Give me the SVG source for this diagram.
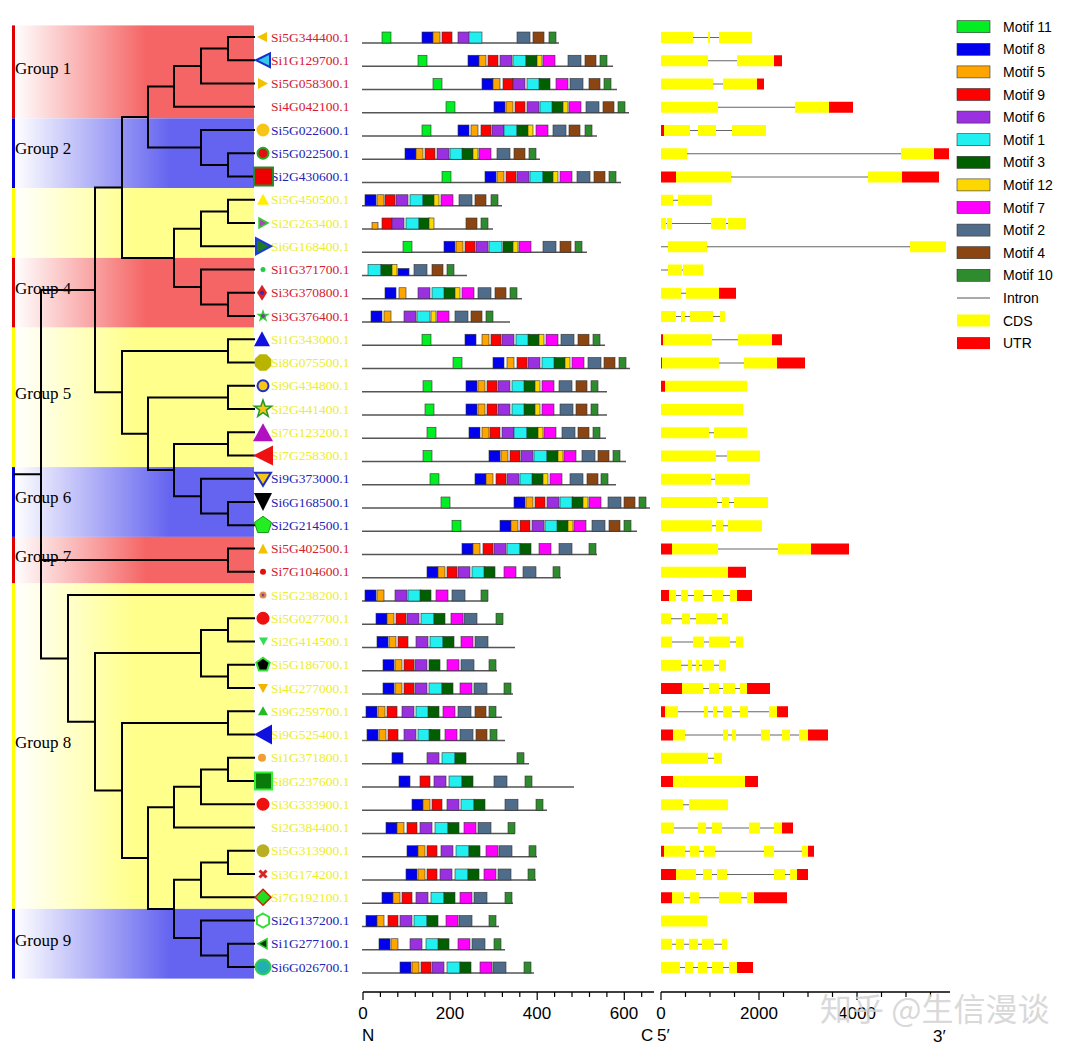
<svg xmlns="http://www.w3.org/2000/svg" xmlns:xlink="http://www.w3.org/1999/xlink" width="1080" height="1054" viewBox="0 0 1080 1054">
<style>
.t{font-family:"Liberation Serif","Times New Roman",serif;font-size:13.5px}
.lr{fill:#D42030}.lb{fill:#2424B4}.ly{fill:#EDED2E}
.gl{font-family:"Liberation Serif","Times New Roman",serif;font-size:17px;fill:#000}
.bl{stroke:#555;stroke-width:1.3;fill:none}
.in{stroke:#666;stroke-width:1;fill:none}
.cd{stroke:#FFFF00;stroke-width:11;fill:none}
.ut{stroke:#FF0000;stroke-width:11;fill:none}
.tree{stroke:#000;stroke-width:2;fill:none;stroke-linecap:square}
.lg{font-family:"Liberation Sans",Arial,sans-serif;font-size:14px;fill:#000}
.ax{font-family:"Liberation Sans",Arial,sans-serif;font-size:17px;fill:#000}
.axl{stroke:#000;stroke-width:1.5;fill:none}
</style>
<defs>
<linearGradient id="gR" gradientUnits="userSpaceOnUse" x1="14" y1="0" x2="254" y2="0"><stop offset="0" stop-color="#fff"/><stop offset="0.55" stop-color="#F56565"/><stop offset="1" stop-color="#F56565"/></linearGradient>
<linearGradient id="gB" gradientUnits="userSpaceOnUse" x1="14" y1="0" x2="254" y2="0"><stop offset="0" stop-color="#fff"/><stop offset="0.65" stop-color="#6464F0"/><stop offset="1" stop-color="#6464F0"/></linearGradient>
<linearGradient id="gY" gradientUnits="userSpaceOnUse" x1="14" y1="0" x2="254" y2="0"><stop offset="0" stop-color="#fff"/><stop offset="0.5" stop-color="#FFFF8C"/><stop offset="1" stop-color="#FFFF8C"/></linearGradient>
<rect id="m11" y="-5" width="9" height="11" fill="#00EE22" stroke="#333" stroke-width=".6"/>
<rect id="m8" y="-5" width="11" height="11" fill="#0000EE" stroke="#333" stroke-width=".6"/>
<rect id="m5" y="-5" width="7" height="11" fill="#FFA500" stroke="#333" stroke-width=".6"/>
<rect id="m9" y="-5" width="10" height="11" fill="#FF0000" stroke="#333" stroke-width=".6"/>
<rect id="m6" y="-5" width="12" height="11" fill="#9B30E0" stroke="#333" stroke-width=".6"/>
<rect id="m1" y="-5" width="13" height="11" fill="#22F0F0" stroke="#333" stroke-width=".6"/>
<rect id="m3" y="-5" width="11" height="11" fill="#006000" stroke="#333" stroke-width=".6"/>
<rect id="m12" y="-5" width="5" height="11" fill="#FFD700" stroke="#333" stroke-width=".6"/>
<rect id="m7" y="-5" width="12" height="11" fill="#FF00FF" stroke="#333" stroke-width=".6"/>
<rect id="m2" y="-5" width="13" height="11" fill="#4F6D8A" stroke="#333" stroke-width=".6"/>
<rect id="m4" y="-5" width="11" height="11" fill="#8B4513" stroke="#333" stroke-width=".6"/>
<rect id="m10" y="-5" width="7" height="11" fill="#2E8B2E" stroke="#333" stroke-width=".6"/>
</defs>
<rect width="1080" height="1054" fill="#fff"/>

<g id="bands">
<rect x="14" y="25.4" width="240" height="93" fill="url(#gR)"/>
<rect x="14" y="118.4" width="240" height="69.7" fill="url(#gB)"/>
<rect x="14" y="188.1" width="240" height="69.8" fill="url(#gY)"/>
<rect x="14" y="257.9" width="240" height="69.7" fill="url(#gR)"/>
<rect x="14" y="327.6" width="240" height="139.5" fill="url(#gY)"/>
<rect x="14" y="467.1" width="240" height="69.8" fill="url(#gB)"/>
<rect x="14" y="536.9" width="240" height="46.5" fill="url(#gR)"/>
<rect x="14" y="583.4" width="240" height="325.5" fill="url(#gY)"/>
<rect x="14" y="908.9" width="240" height="69.7" fill="url(#gB)"/>
<rect x="12" y="25.4" width="3" height="93" fill="#E00000"/>
<rect x="12" y="118.4" width="3" height="69.7" fill="#0000DD"/>
<rect x="12" y="188.1" width="3" height="69.8" fill="#FFFF00"/>
<rect x="12" y="257.9" width="3" height="69.7" fill="#E00000"/>
<rect x="12" y="327.6" width="3" height="139.5" fill="#FFFF00"/>
<rect x="12" y="467.1" width="3" height="69.8" fill="#0000DD"/>
<rect x="12" y="536.9" width="3" height="46.5" fill="#E00000"/>
<rect x="12" y="583.4" width="3" height="325.5" fill="#FFFF00"/>
<rect x="12" y="908.9" width="3" height="69.7" fill="#0000DD"/>
</g>

<g id="connectors" class="tree">
<path d="M254 37H228V60.25H254M228 48.6H201V83.5H254M201 66H174V106.75H254"/>
<path d="M254 153.25H228V176.5H254M228 164.9H201V130H254M201 147.4H148V86.4H174"/>
<path d="M254 199.75H228V223H254M228 211.4H201V246.25H254M201 228.8H174V287H201"/>
<path d="M254 292.75H228V316H254M228 304.4H201V269.5H254"/>
<path d="M148 116.9H122V257.9H174"/>
<path d="M254 339.25H228V362.5H254M254 385.75H228V409H254M254 432.25H228V455.5H254M254 502H228V525.25H254"/>
<path d="M228 513.6H201V478.75H254M201 496.2H174V443.9H228M174 470H148V397.4H228M148 433.7H122V350.9H228"/>
<path d="M122 187.4H95V392.3H122"/>
<path d="M254 548.5H228V571.75H254"/>
<path d="M254 618.25H228V641.5H254M254 664.75H228V688H254M228 629.9H201V676.4H228"/>
<path d="M254 711.25H228V734.5H254M254 757.75H228V781H254M228 769.4H201V804.25H254M201 786.8H174V827.5H254"/>
<path d="M254 850.75H228V874H254M228 862.4H201V897.25H254M254 943.75H228V967H254M228 955.4H201V920.5H254M201 879.8H174V938H201"/>
<path d="M174 807.2H148V908.9H174M228 722.9H122V858H148M201 653.1H95V790.5H122M254 595H68V721.8H95"/>
<path d="M95 289.9H41V658.4H68M41 560.1H228M14 474.2H41"/>
</g>

<g id="group-labels">
<text class="gl" x="15" y="74">Group 1</text>
<text class="gl" x="15" y="154">Group 2</text>
<text class="gl" x="15" y="294">Group 4</text>
<text class="gl" x="15" y="399">Group 5</text>
<text class="gl" x="15" y="503">Group 6</text>
<text class="gl" x="15" y="562">Group 7</text>
<text class="gl" x="15" y="748">Group 8</text>
<text class="gl" x="15" y="946">Group 9</text>
</g>

<g id="n1" transform="translate(0,37)">
<text class="t lr" x="271" y="4.5">Si5G344400.1</text>
<polygon points="257,0 267,-5 267,5" fill="#F2C100"/>
<path class="bl" d="M362 6H559"/>
<use href="#m11" x="382"/><use href="#m8" x="422"/><use href="#m5" x="433"/><use href="#m9" x="442"/><use href="#m6" x="458"/><use href="#m1" x="469"/><use href="#m2" x="517"/><use href="#m4" x="533"/><use href="#m10" x="549"/>
<path class="in" d="M661 .5H752"/><path class="cd" d="M661 .5H693M708 .5H710M719 .5H752"/>
</g>
<g id="n2" transform="translate(0,60.25)">
<text class="t lr" x="271" y="4.5">Si1G129700.1</text>
<polygon points="256,0 270,-7 270,7" fill="#35C8E8" stroke="#1530D0" stroke-width="2"/>
<path class="bl" d="M362 6H613"/>
<use href="#m11" x="418"/><use href="#m8" x="468"/><use href="#m5" x="479"/><use href="#m9" x="488"/><use href="#m6" x="500"/><use href="#m1" x="513"/><use href="#m3" x="526"/><use href="#m12" x="537"/><use href="#m7" x="543"/><use href="#m2" x="568"/><use href="#m4" x="585"/><use href="#m10" x="600"/>
<path class="in" d="M661 .5H782"/><path class="cd" d="M661 .5H708M737 .5H774"/><path class="ut" d="M774 .5H782"/>
</g>
<g id="n3" transform="translate(0,83.5)">
<text class="t lr" x="271" y="4.5">Si5G058300.1</text>
<polygon points="268,0 258,-5.5 258,5.5" fill="#F2C100"/>
<path class="bl" d="M362 6H617"/>
<use href="#m11" x="433"/><use href="#m8" x="482"/><use href="#m5" x="493"/><use href="#m9" x="503"/><use href="#m6" x="513"/><use href="#m1" x="527"/><use href="#m3" x="539"/><use href="#m7" x="556"/><use href="#m2" x="570"/><use href="#m4" x="589"/><use href="#m10" x="604"/>
<path class="in" d="M661 .5H764"/><path class="cd" d="M661 .5H713M723 .5H757"/><path class="ut" d="M757 .5H764"/>
</g>
<g id="n4" transform="translate(0,106.75)">
<text class="t lr" x="271" y="4.5">Si4G042100.1</text>
<path class="bl" d="M362 6H629"/>
<use href="#m11" x="446"/><use href="#m8" x="494"/><use href="#m5" x="506"/><use href="#m9" x="515"/><use href="#m6" x="527"/><use href="#m1" x="540"/><use href="#m3" x="552"/><use href="#m12" x="563"/><use href="#m7" x="569"/><use href="#m2" x="586"/><use href="#m4" x="603"/><use href="#m10" x="618"/>
<path class="in" d="M661 .5H853"/><path class="cd" d="M661 .5H718M795 .5H829"/><path class="ut" d="M829 .5H853"/>
</g>
<g id="n5" transform="translate(0,130)">
<text class="t lb" x="271" y="4.5">Si5G022600.1</text>
<circle cx="263" r="6.5" fill="#F5C518"/>
<path class="bl" d="M362 6H597"/>
<use href="#m11" x="422"/><use href="#m8" x="458"/><use href="#m5" x="471"/><use href="#m9" x="481"/><use href="#m6" x="492"/><use href="#m1" x="504"/><use href="#m3" x="517"/><use href="#m12" x="528"/><use href="#m7" x="536"/><use href="#m2" x="553"/><use href="#m4" x="569"/><use href="#m10" x="585"/>
<path class="in" d="M661 .5H766"/><path class="ut" d="M661 .5H664"/><path class="cd" d="M664 .5H690M698 .5H716M732 .5H766"/>
</g>
<g id="n6" transform="translate(0,153.25)">
<text class="t lb" x="271" y="4.5">Si5G022500.1</text>
<circle cx="263" r="5.5" fill="#E01010" stroke="#22AA22" stroke-width="2"/>
<path class="bl" d="M362 6H540"/>
<use href="#m8" x="405"/><use href="#m5" x="416"/><use href="#m9" x="425"/><use href="#m6" x="437"/><use href="#m1" x="450"/><use href="#m3" x="462"/><use href="#m12" x="473"/><use href="#m7" x="479"/><use href="#m2" x="497"/><use href="#m4" x="514"/><use href="#m10" x="529"/>
<path class="in" d="M661 .5H949"/><path class="cd" d="M661 .5H687M901 .5H934"/><path class="ut" d="M934 .5H949"/>
</g>
<g id="n7" transform="translate(0,176.5)">
<text class="t lb" x="271" y="4.5">Si2G430600.1</text>
<rect x="254" y="-9" width="19" height="18" fill="#EE0000" stroke="#2A8A2A" stroke-width="2"/>
<path class="bl" d="M362 6H621"/>
<use href="#m11" x="442"/><use href="#m8" x="485"/><use href="#m5" x="497"/><use href="#m9" x="506"/><use href="#m6" x="517"/><use href="#m1" x="530"/><use href="#m3" x="543"/><use href="#m12" x="553"/><use href="#m7" x="560"/><use href="#m2" x="577"/><use href="#m4" x="594"/><use href="#m10" x="609"/>
<path class="in" d="M661 .5H939"/><path class="ut" d="M661 .5H676M902 .5H939"/><path class="cd" d="M676 .5H731M868 .5H902"/>
</g>
<g id="n8" transform="translate(0,199.75)">
<text class="t ly" x="271" y="4.5">Si5G450500.1</text>
<polygon points="263,-6 257,5 269,5" fill="#FFEE00"/>
<path class="bl" d="M362 6H502"/>
<use href="#m8" x="365"/><use href="#m5" x="377"/><use href="#m9" x="385"/><use href="#m6" x="396"/><use href="#m1" x="410"/><use href="#m3" x="423"/><use href="#m12" x="434"/><use href="#m7" x="441"/><use href="#m2" x="459"/><use href="#m4" x="475"/><use href="#m10" x="491"/>
<path class="in" d="M661 .5H712"/><path class="cd" d="M661 .5H673M678 .5H712"/>
</g>
<g id="n9" transform="translate(0,223)">
<text class="t ly" x="271" y="4.5">Si2G263400.1</text>
<polygon points="268,0 259,-5 259,5" fill="#A050A0" stroke="#33CC33" stroke-width="1.5"/>
<path class="bl" d="M362 6H493"/>
<rect x="372" y="-0.5" width="6" height="6.5" fill="#FFA500" stroke="#333" stroke-width=".6"/><use href="#m9" x="382"/><use href="#m6" x="392"/><use href="#m1" x="406"/><use href="#m3" x="419"/><use href="#m12" x="429"/><use href="#m4" x="466"/><use href="#m10" x="481"/>
<path class="in" d="M661 .5H746"/><path class="cd" d="M661 .5H666M667 .5H672M711 .5H726M728 .5H746"/>
</g>
<g id="n10" transform="translate(0,246.25)">
<text class="t ly" x="271" y="4.5">Si6G168400.1</text>
<polygon points="271,0 256,-8 256,8" fill="#1E7A1E" stroke="#1A3ED0" stroke-width="2"/>
<path class="bl" d="M362 6H587"/>
<use href="#m11" x="403"/><use href="#m8" x="444"/><use href="#m5" x="456"/><use href="#m9" x="465"/><use href="#m6" x="476"/><use href="#m1" x="489"/><use href="#m3" x="503"/><use href="#m12" x="513"/><use href="#m7" x="519"/><use href="#m2" x="543"/><use href="#m4" x="560"/><use href="#m10" x="575"/>
<path class="in" d="M661 .5H946"/><path class="cd" d="M668 .5H707M910 .5H946"/>
</g>
<g id="n11" transform="translate(0,269.5)">
<text class="t lr" x="271" y="4.5">Si1G371700.1</text>
<circle cx="263" r="2.5" fill="#22CC44"/>
<path class="bl" d="M362 6H467"/>
<use href="#m1" x="368"/><use href="#m3" x="381"/><use href="#m12" x="392"/><rect x="398" y="-1" width="11" height="7" fill="#0000EE" stroke="#333" stroke-width=".6"/><use href="#m2" x="414"/><use href="#m4" x="432"/><use href="#m10" x="447"/>
<path class="in" d="M661 .5H703"/><path class="cd" d="M668 .5H682M683 .5H703"/>
</g>
<g id="n12" transform="translate(0,292.75)">
<text class="t lr" x="271" y="4.5">Si3G370800.1</text>
<polygon points="262,-8 267,0 262,8 257,0" fill="#DD2020"/><circle cx="262" r="2" fill="#2233CC"/>
<path class="bl" d="M362 6H522"/>
<use href="#m8" x="385"/><use href="#m5" x="399"/><use href="#m6" x="418"/><use href="#m1" x="432"/><use href="#m3" x="444"/><use href="#m12" x="455"/><use href="#m7" x="462"/><use href="#m2" x="478"/><use href="#m4" x="495"/><use href="#m10" x="510"/>
<path class="in" d="M661 .5H736"/><path class="cd" d="M661 .5H681M686 .5H719"/><path class="ut" d="M719 .5H736"/>
</g>
<g id="n13" transform="translate(0,316)">
<text class="t lr" x="271" y="4.5">Si3G376400.1</text>
<polygon points="263,-7 264.6,-2.3 269.7,-2.2 265.7,0.9 267.1,5.7 263,2.8 258.9,5.7 260.3,0.9 256.3,-2.2 261.4,-2.3" fill="#33CC33"/><circle cx="263" r="2" fill="#8040A0"/>
<path class="bl" d="M362 6H510"/>
<use href="#m8" x="371"/><use href="#m5" x="384"/><use href="#m6" x="404"/><use href="#m1" x="417"/><use href="#m12" x="431"/><use href="#m7" x="437"/><use href="#m2" x="455"/><use href="#m4" x="471"/><use href="#m10" x="486"/>
<path class="in" d="M661 .5H725"/><path class="cd" d="M661 .5H676M681 .5H685M690 .5H713M720 .5H725"/>
</g>
<g id="n14" transform="translate(0,339.25)">
<text class="t ly" x="271" y="4.5">Si1G343000.1</text>
<polygon points="262,-8 254,7 270,7" fill="#1010E0"/>
<path class="bl" d="M362 6H605"/>
<use href="#m11" x="422"/><use href="#m8" x="465"/><use href="#m5" x="482"/><use href="#m9" x="491"/><use href="#m6" x="502"/><use href="#m1" x="516"/><use href="#m3" x="528"/><use href="#m12" x="539"/><use href="#m7" x="546"/><use href="#m2" x="561"/><use href="#m4" x="578"/><use href="#m10" x="593"/>
<path class="in" d="M661 .5H782"/><path class="ut" d="M661 .5H663M772 .5H782"/><path class="cd" d="M663 .5H712M738 .5H772"/>
</g>
<g id="n15" transform="translate(0,362.5)">
<text class="t ly" x="271" y="4.5">Si8G075500.1</text>
<polygon points="271.3,-3.4 271.3,3.4 266.4,8.3 259.6,8.3 254.7,3.4 254.7,-3.4 259.6,-8.3 266.4,-8.3" fill="#B8B400"/>
<path class="bl" d="M362 6H630"/>
<use href="#m11" x="453"/><use href="#m8" x="493"/><use href="#m5" x="507"/><use href="#m9" x="517"/><use href="#m6" x="528"/><use href="#m1" x="542"/><use href="#m3" x="554"/><use href="#m12" x="565"/><use href="#m7" x="572"/><use href="#m2" x="588"/><use href="#m4" x="604"/><use href="#m10" x="619"/>
<path class="in" d="M661 .5H805"/><path class="ut" d="M661 .5H662M777 .5H805"/><path class="cd" d="M662 .5H719M744 .5H777"/>
</g>
<g id="n16" transform="translate(0,385.75)">
<text class="t ly" x="271" y="4.5">Si9G434800.1</text>
<circle cx="263" r="5.5" fill="#F5C518" stroke="#2030C0" stroke-width="2"/>
<path class="bl" d="M362 6H607"/>
<use href="#m11" x="423"/><use href="#m8" x="466"/><use href="#m5" x="478"/><use href="#m9" x="487"/><use href="#m6" x="498"/><use href="#m1" x="512"/><use href="#m3" x="524"/><use href="#m12" x="535"/><use href="#m7" x="542"/><use href="#m2" x="559"/><use href="#m4" x="576"/><use href="#m10" x="591"/>
<path class="ut" d="M661 .5H665"/><path class="cd" d="M665 .5H747"/>
</g>
<g id="n17" transform="translate(0,409)">
<text class="t ly" x="271" y="4.5">Si2G441400.1</text>
<polygon points="263,-9 265.1,-2.9 271.6,-2.8 266.4,1.1 268.3,7.3 263,3.6 257.7,7.3 259.6,1.1 254.4,-2.8 260.9,-2.9" fill="#F5C518" stroke="#229922" stroke-width="1.5"/>
<path class="bl" d="M362 6H607"/>
<use href="#m11" x="425"/><use href="#m8" x="466"/><use href="#m5" x="478"/><use href="#m9" x="487"/><use href="#m6" x="498"/><use href="#m1" x="512"/><use href="#m3" x="524"/><use href="#m12" x="535"/><use href="#m7" x="542"/><use href="#m2" x="560"/><use href="#m4" x="576"/><use href="#m10" x="591"/>
<path class="cd" d="M661 .5H743"/>
</g>
<g id="n18" transform="translate(0,432.25)">
<text class="t ly" x="271" y="4.5">Si7G123200.1</text>
<polygon points="263,-9 253,9 273,9" fill="#B010C0"/>
<path class="bl" d="M362 6H606"/>
<use href="#m11" x="427"/><use href="#m8" x="469"/><use href="#m5" x="482"/><use href="#m9" x="490"/><use href="#m6" x="502"/><use href="#m1" x="514"/><use href="#m3" x="527"/><use href="#m12" x="538"/><use href="#m7" x="544"/><use href="#m2" x="562"/><use href="#m4" x="578"/><use href="#m10" x="593"/>
<path class="in" d="M661 .5H747"/><path class="cd" d="M661 .5H709M714 .5H747"/>
</g>
<g id="n19" transform="translate(0,455.5)">
<text class="t ly" x="271" y="4.5">Si7G258300.1</text>
<polygon points="253,0 273,-10 273,10" fill="#EE1111"/>
<path class="bl" d="M362 6H626"/>
<use href="#m11" x="423"/><use href="#m8" x="489"/><use href="#m5" x="501"/><use href="#m9" x="510"/><use href="#m6" x="521"/><use href="#m1" x="534"/><use href="#m3" x="547"/><use href="#m12" x="558"/><use href="#m7" x="564"/><use href="#m2" x="582"/><use href="#m4" x="598"/><use href="#m10" x="613"/>
<path class="in" d="M661 .5H760"/><path class="cd" d="M661 .5H716M727 .5H760"/>
</g>
<g id="n20" transform="translate(0,478.75)">
<text class="t lb" x="271" y="4.5">Si9G373000.1</text>
<polygon points="255,-6 271,-6 263,7" fill="#F5C518" stroke="#2030C0" stroke-width="2"/>
<path class="bl" d="M362 6H616"/>
<use href="#m11" x="430"/><use href="#m8" x="475"/><use href="#m5" x="486"/><use href="#m9" x="496"/><use href="#m6" x="507"/><use href="#m1" x="520"/><use href="#m3" x="532"/><use href="#m12" x="543"/><use href="#m7" x="550"/><use href="#m2" x="570"/><use href="#m4" x="587"/><use href="#m10" x="601"/>
<path class="in" d="M661 .5H750"/><path class="cd" d="M661 .5H711M715 .5H750"/>
</g>
<g id="n21" transform="translate(0,502)">
<text class="t lb" x="271" y="4.5">Si6G168500.1</text>
<polygon points="254,-9 272,-9 263,9" fill="#000"/>
<path class="bl" d="M362 6H650"/>
<use href="#m11" x="441"/><use href="#m8" x="514"/><use href="#m5" x="526"/><use href="#m9" x="535"/><use href="#m6" x="547"/><use href="#m1" x="560"/><use href="#m3" x="572"/><use href="#m12" x="583"/><use href="#m7" x="589"/><use href="#m2" x="608"/><use href="#m4" x="624"/><use href="#m10" x="639"/>
<path class="in" d="M661 .5H768"/><path class="cd" d="M661 .5H717M722 .5H729M734 .5H768"/>
</g>
<g id="n22" transform="translate(0,525.25)">
<text class="t lb" x="271" y="4.5">Si2G214500.1</text>
<polygon points="263,-9 271.6,-2.8 268.3,7.3 257.7,7.3 254.4,-2.8" fill="#22EE22" stroke="#119911" stroke-width="1"/>
<path class="bl" d="M362 6H637"/>
<use href="#m11" x="452"/><use href="#m8" x="500"/><use href="#m5" x="511"/><use href="#m9" x="520"/><use href="#m6" x="532"/><use href="#m1" x="545"/><use href="#m3" x="557"/><use href="#m12" x="568"/><use href="#m7" x="574"/><use href="#m2" x="592"/><use href="#m4" x="609"/><use href="#m10" x="624"/>
<path class="in" d="M661 .5H762"/><path class="cd" d="M661 .5H712M716 .5H723M728 .5H762"/>
</g>
<g id="n23" transform="translate(0,548.5)">
<text class="t lr" x="271" y="4.5">Si5G402500.1</text>
<polygon points="263,-5 258,5 268,5" fill="#F2C100"/>
<path class="bl" d="M362 6H597"/>
<use href="#m8" x="462"/><use href="#m5" x="473"/><use href="#m9" x="483"/><use href="#m6" x="494"/><use href="#m1" x="507"/><use href="#m3" x="520"/><use href="#m7" x="539"/><use href="#m2" x="559"/><use href="#m10" x="589"/>
<path class="in" d="M661 .5H849"/><path class="ut" d="M661 .5H672M811 .5H849"/><path class="cd" d="M672 .5H718M778 .5H811"/>
</g>
<g id="n24" transform="translate(0,571.75)">
<text class="t lr" x="271" y="4.5">Si7G104600.1</text>
<circle cx="263" r="3" fill="#E01010"/>
<path class="bl" d="M362 6H561"/>
<use href="#m8" x="427"/><use href="#m5" x="438"/><use href="#m9" x="447"/><use href="#m6" x="458"/><use href="#m1" x="472"/><use href="#m3" x="484"/><use href="#m7" x="504"/><use href="#m2" x="523"/><use href="#m10" x="553"/>
<path class="cd" d="M661 .5H728"/><path class="ut" d="M728 .5H746"/>
</g>
<g id="n25" transform="translate(0,595)">
<text class="t ly" x="271" y="4.5">Si5G238200.1</text>
<circle cx="263" r="3.5" fill="#E0904A"/><circle cx="263" r="1.5" fill="#8040A0"/>
<path class="bl" d="M362 6H488"/>
<use href="#m8" x="365"/><use href="#m5" x="377"/><use href="#m6" x="395"/><use href="#m1" x="408"/><use href="#m3" x="420"/><use href="#m7" x="436"/><use href="#m2" x="452"/><use href="#m10" x="481"/>
<path class="in" d="M661 .5H752"/><path class="ut" d="M661 .5H669M737 .5H752"/><path class="cd" d="M669 .5H676M681 .5H688M694 .5H703M712 .5H723M730 .5H737"/>
</g>
<g id="n26" transform="translate(0,618.25)">
<text class="t ly" x="271" y="4.5">Si5G027700.1</text>
<circle cx="263" r="6.5" fill="#EE1111"/>
<path class="bl" d="M362 6H503"/>
<use href="#m8" x="376"/><use href="#m5" x="387"/><use href="#m9" x="396"/><use href="#m6" x="407"/><use href="#m1" x="421"/><use href="#m3" x="434"/><use href="#m7" x="451"/><use href="#m2" x="464"/><use href="#m10" x="496"/>
<path class="in" d="M661 .5H728"/><path class="cd" d="M661 .5H671M682 .5H690M696 .5H717M722 .5H728"/>
</g>
<g id="n27" transform="translate(0,641.5)">
<text class="t ly" x="271" y="4.5">Si2G414500.1</text>
<polygon points="259,-4 268,-4 263.5,4" fill="#33DD55"/>
<path class="bl" d="M362 6H515"/>
<use href="#m8" x="377"/><use href="#m5" x="389"/><use href="#m9" x="398"/><use href="#m6" x="416"/><use href="#m1" x="430"/><use href="#m3" x="443"/><use href="#m7" x="461"/><use href="#m2" x="475"/>
<path class="in" d="M661 .5H743"/><path class="cd" d="M661 .5H672M693 .5H704M709 .5H730M736 .5H743"/>
</g>
<g id="n28" transform="translate(0,664.75)">
<text class="t ly" x="271" y="4.5">Si5G186700.1</text>
<polygon points="263,-7 269.7,-2.2 267.1,5.7 258.9,5.7 256.3,-2.2" fill="#000" stroke="#33DD33" stroke-width="2"/>
<path class="bl" d="M362 6H497"/>
<use href="#m8" x="383"/><use href="#m5" x="395"/><use href="#m9" x="404"/><use href="#m6" x="415"/><use href="#m3" x="429"/><use href="#m7" x="447"/><use href="#m2" x="461"/><use href="#m10" x="489"/>
<path class="in" d="M661 .5H726"/><path class="cd" d="M661 .5H681M688 .5H692M696 .5H699M702 .5H714M719 .5H726"/>
</g>
<g id="n29" transform="translate(0,688)">
<text class="t ly" x="271" y="4.5">Si4G277000.1</text>
<polygon points="258,-4 268,-4 263,5" fill="#F2B400"/>
<path class="bl" d="M362 6H513"/>
<use href="#m8" x="383"/><use href="#m5" x="395"/><use href="#m9" x="404"/><use href="#m6" x="415"/><use href="#m1" x="429"/><use href="#m3" x="442"/><use href="#m7" x="460"/><use href="#m2" x="474"/><use href="#m10" x="504"/>
<path class="in" d="M661 .5H770"/><path class="ut" d="M661 .5H682M747 .5H770"/><path class="cd" d="M682 .5H703M709 .5H719M723 .5H735M740 .5H747"/>
</g>
<g id="n30" transform="translate(0,711.25)">
<text class="t ly" x="271" y="4.5">Si9G259700.1</text>
<polygon points="263,-5 258,4 268,4" fill="#22BB22"/>
<path class="bl" d="M362 6H502"/>
<use href="#m8" x="366"/><use href="#m5" x="378"/><use href="#m9" x="387"/><use href="#m6" x="402"/><use href="#m1" x="416"/><use href="#m3" x="428"/><use href="#m7" x="443"/><use href="#m2" x="458"/><use href="#m4" x="475"/><use href="#m10" x="489"/>
<path class="in" d="M661 .5H788"/><path class="ut" d="M661 .5H665M777 .5H788"/><path class="cd" d="M665 .5H678M704 .5H708M713 .5H717M723 .5H732M740 .5H748M769 .5H777"/>
</g>
<g id="n31" transform="translate(0,734.5)">
<text class="t ly" x="271" y="4.5">Si9G525400.1</text>
<polygon points="254,0 272,-10 272,10" fill="#1111DD"/>
<path class="bl" d="M362 6H505"/>
<use href="#m8" x="367"/><use href="#m5" x="379"/><use href="#m9" x="388"/><use href="#m6" x="404"/><use href="#m1" x="418"/><use href="#m3" x="429"/><use href="#m7" x="445"/><use href="#m2" x="460"/><use href="#m4" x="476"/><use href="#m10" x="490"/>
<path class="in" d="M661 .5H828"/><path class="ut" d="M661 .5H673M808 .5H828"/><path class="cd" d="M673 .5H685M723 .5H728M732 .5H736M761 .5H770M782 .5H790M799 .5H808"/>
</g>
<g id="n32" transform="translate(0,757.75)">
<text class="t ly" x="271" y="4.5">Si1G371800.1</text>
<circle cx="262" r="4" fill="#F0A030"/>
<path class="bl" d="M362 6H529"/>
<use href="#m8" x="392"/><use href="#m6" x="427"/><use href="#m1" x="442"/><use href="#m3" x="455"/><use href="#m10" x="517"/>
<path class="in" d="M661 .5H722"/><path class="cd" d="M661 .5H708M714 .5H722"/>
</g>
<g id="n33" transform="translate(0,781)">
<text class="t ly" x="271" y="4.5">Si8G237600.1</text>
<rect x="255" y="-8.5" width="17" height="17" fill="#0A7A0A" stroke="#33EE33" stroke-width="2"/>
<path class="bl" d="M362 6H574"/>
<use href="#m8" x="399"/><use href="#m9" x="420"/><use href="#m6" x="434"/><use href="#m1" x="449"/><use href="#m3" x="462"/><use href="#m2" x="494"/><use href="#m10" x="525"/>
<path class="ut" d="M661 .5H673M745 .5H758"/><path class="cd" d="M673 .5H745"/>
</g>
<g id="n34" transform="translate(0,804.25)">
<text class="t ly" x="271" y="4.5">Si3G333900.1</text>
<circle cx="263" r="6.5" fill="#EE1111"/>
<path class="bl" d="M362 6H547"/>
<use href="#m8" x="412"/><use href="#m5" x="423"/><use href="#m9" x="432"/><use href="#m6" x="447"/><use href="#m1" x="461"/><use href="#m3" x="474"/><use href="#m2" x="505"/><use href="#m10" x="536"/>
<path class="in" d="M661 .5H728"/><path class="cd" d="M661 .5H683M689 .5H728"/>
</g>
<g id="n35" transform="translate(0,827.5)">
<text class="t ly" x="271" y="4.5">Si2G384400.1</text>
<path class="bl" d="M362 6H515"/>
<use href="#m8" x="386"/><use href="#m5" x="397"/><use href="#m9" x="407"/><use href="#m6" x="420"/><use href="#m1" x="435"/><use href="#m3" x="448"/><use href="#m7" x="464"/><use href="#m2" x="478"/><use href="#m10" x="508"/>
<path class="in" d="M661 .5H793"/><path class="cd" d="M661 .5H674M698 .5H706M712 .5H722M749 .5H760M774 .5H782"/><path class="ut" d="M782 .5H793"/>
</g>
<g id="n36" transform="translate(0,850.75)">
<text class="t ly" x="271" y="4.5">Si5G313900.1</text>
<circle cx="263" r="6.5" fill="#B8B020"/>
<path class="bl" d="M362 6H537"/>
<use href="#m8" x="407"/><use href="#m5" x="418"/><use href="#m9" x="427"/><use href="#m6" x="441"/><use href="#m1" x="456"/><use href="#m3" x="469"/><use href="#m7" x="486"/><use href="#m2" x="499"/><use href="#m10" x="529"/>
<path class="in" d="M661 .5H814"/><path class="ut" d="M661 .5H664M808 .5H814"/><path class="cd" d="M664 .5H685M690 .5H699M704 .5H715M764 .5H774M802 .5H808"/>
</g>
<g id="n37" transform="translate(0,874)">
<text class="t ly" x="271" y="4.5">Si3G174200.1</text>
<path d="M259.5,-3.5L266.5,3.5M266.5,-3.5L259.5,3.5" stroke="#DD2222" stroke-width="3"/>
<path class="bl" d="M362 6H536"/>
<use href="#m8" x="406"/><use href="#m5" x="418"/><use href="#m9" x="427"/><use href="#m6" x="440"/><use href="#m1" x="455"/><use href="#m3" x="468"/><use href="#m7" x="484"/><use href="#m2" x="498"/><use href="#m10" x="528"/>
<path class="in" d="M661 .5H808"/><path class="ut" d="M661 .5H676M797 .5H808"/><path class="cd" d="M676 .5H696M703 .5H712M717 .5H727M774 .5H785M790 .5H797"/>
</g>
<g id="n38" transform="translate(0,897.25)">
<text class="t ly" x="271" y="4.5">Si7G192100.1</text>
<polygon points="263,-8 271,0 263,8 255,0" fill="#22DD22" stroke="#CC2200" stroke-width="1.5"/>
<path class="bl" d="M362 6H513"/>
<use href="#m8" x="382"/><use href="#m5" x="393"/><use href="#m9" x="402"/><use href="#m6" x="416"/><use href="#m1" x="431"/><use href="#m3" x="444"/><use href="#m7" x="460"/><use href="#m2" x="474"/><use href="#m10" x="505"/>
<path class="in" d="M661 .5H787"/><path class="ut" d="M661 .5H672M754 .5H787"/><path class="cd" d="M672 .5H684M690 .5H699M719 .5H741M747 .5H754"/>
</g>
<g id="n39" transform="translate(0,920.5)">
<text class="t lb" x="271" y="4.5">Si2G137200.1</text>
<polygon points="263,-7 269.1,-3.5 269.1,3.5 263,7 256.9,3.5 256.9,-3.5" fill="#fff" stroke="#33DD33" stroke-width="2"/>
<path class="bl" d="M362 6H499"/>
<use href="#m8" x="366"/><use href="#m5" x="377"/><use href="#m9" x="388"/><use href="#m6" x="400"/><use href="#m1" x="414"/><use href="#m3" x="427"/><use href="#m7" x="446"/><use href="#m2" x="459"/><use href="#m10" x="489"/>
<path class="cd" d="M661 .5H707"/>
</g>
<g id="n40" transform="translate(0,943.75)">
<text class="t lb" x="271" y="4.5">Si1G277100.1</text>
<polygon points="258,0 267,-5 267,5" fill="#113311" stroke="#33CC33" stroke-width="1.5"/>
<path class="bl" d="M362 6H505"/>
<use href="#m8" x="379"/><use href="#m5" x="391"/><use href="#m6" x="410"/><use href="#m1" x="426"/><use href="#m3" x="438"/><use href="#m7" x="458"/><use href="#m2" x="472"/><use href="#m10" x="494"/>
<path class="in" d="M661 .5H727"/><path class="cd" d="M661 .5H672M676 .5H684M689 .5H698M702 .5H714M722 .5H727"/>
</g>
<g id="n41" transform="translate(0,967)">
<text class="t lb" x="271" y="4.5">Si6G026700.1</text>
<circle cx="263" r="7.5" fill="#20B0B0" stroke="#33CC55" stroke-width="2"/>
<path class="bl" d="M362 6H534"/>
<use href="#m8" x="400"/><use href="#m5" x="412"/><use href="#m9" x="421"/><use href="#m6" x="432"/><use href="#m1" x="447"/><use href="#m3" x="460"/><use href="#m7" x="480"/><use href="#m2" x="493"/><use href="#m10" x="524"/>
<path class="in" d="M661 .5H753"/><path class="cd" d="M661 .5H680M685 .5H693M698 .5H707M712 .5H723M729 .5H737"/><path class="ut" d="M737 .5H753"/>
</g>

<g id="legend">
<rect x="957" y="20.7" width="33" height="12" fill="#00EE22" stroke="#333" stroke-width=".6"/><text class="lg" x="1003" y="31.7">Motif 11</text>
<rect x="957" y="43.3" width="33" height="12" fill="#0000EE" stroke="#333" stroke-width=".6"/><text class="lg" x="1003" y="54.3">Motif 8</text>
<rect x="957" y="65.9" width="33" height="12" fill="#FFA500" stroke="#333" stroke-width=".6"/><text class="lg" x="1003" y="76.9">Motif 5</text>
<rect x="957" y="88.5" width="33" height="12" fill="#FF0000" stroke="#333" stroke-width=".6"/><text class="lg" x="1003" y="99.5">Motif 9</text>
<rect x="957" y="111.1" width="33" height="12" fill="#9B30E0" stroke="#333" stroke-width=".6"/><text class="lg" x="1003" y="122.1">Motif 6</text>
<rect x="957" y="133.7" width="33" height="12" fill="#22F0F0" stroke="#333" stroke-width=".6"/><text class="lg" x="1003" y="144.7">Motif 1</text>
<rect x="957" y="156.3" width="33" height="12" fill="#006000" stroke="#333" stroke-width=".6"/><text class="lg" x="1003" y="167.3">Motif 3</text>
<rect x="957" y="178.9" width="33" height="12" fill="#FFD700" stroke="#333" stroke-width=".6"/><text class="lg" x="1003" y="189.9">Motif 12</text>
<rect x="957" y="201.5" width="33" height="12" fill="#FF00FF" stroke="#333" stroke-width=".6"/><text class="lg" x="1003" y="212.5">Motif 7</text>
<rect x="957" y="224.1" width="33" height="12" fill="#4F6D8A" stroke="#333" stroke-width=".6"/><text class="lg" x="1003" y="235.1">Motif 2</text>
<rect x="957" y="246.7" width="33" height="12" fill="#8B4513" stroke="#333" stroke-width=".6"/><text class="lg" x="1003" y="257.7">Motif 4</text>
<rect x="957" y="269.3" width="33" height="12" fill="#2E8B2E" stroke="#333" stroke-width=".6"/><text class="lg" x="1003" y="280.3">Motif 10</text>
<path d="M957 298H990" stroke="#555" stroke-width="1"/><text class="lg" x="1003" y="303">Intron</text>
<rect x="957" y="314.5" width="33" height="12" fill="#FFFF00"/><text class="lg" x="1003" y="325.5">CDS</text>
<rect x="957" y="337.1" width="33" height="12" fill="#FF0000"/><text class="lg" x="1003" y="348.1">UTR</text>
</g>

<g id="axes">
<path class="axl" d="M363 992H654M661 992H950"/>
<path stroke="#000" stroke-width="1.2" d="M363 992v8M450.1 992v8M537.2 992v8M624.3 992v8M380.4 992v5M397.8 992v5M415.3 992v5M432.7 992v5M467.5 992v5M484.9 992v5M502.4 992v5M519.8 992v5M554.6 992v5M572 992v5M589.5 992v5M606.9 992v5M641.7 992v5"/>
<path stroke="#000" stroke-width="1.2" d="M661 992v8M759 992v8M857 992v8M685.5 992v5M710 992v5M734.5 992v5M783.5 992v5M808 992v5M832.5 992v5M881.5 992v5M906 992v5M930.5 992v5"/>
<text class="ax" x="363" y="1019" text-anchor="middle">0</text>
<text class="ax" x="450" y="1019" text-anchor="middle">200</text>
<text class="ax" x="537" y="1019" text-anchor="middle">400</text>
<text class="ax" x="624" y="1019" text-anchor="middle">600</text>
<text class="ax" x="661" y="1019" text-anchor="middle">0</text>
<text class="ax" x="759" y="1019" text-anchor="middle">2000</text>
<text class="ax" x="857" y="1019" text-anchor="middle">4000</text>
<text class="ax" x="362" y="1041">N</text>
<text class="ax" x="641" y="1041">C</text>
<text class="ax" x="657" y="1041">5′</text>
<text class="ax" x="933" y="1042">3′</text>
</g>
<text x="820" y="1021" font-family="'Noto Sans CJK SC',sans-serif" font-size="32" fill="#d4d4d4" fill-opacity="0.9">知乎 @生信漫谈</text>
</svg>
